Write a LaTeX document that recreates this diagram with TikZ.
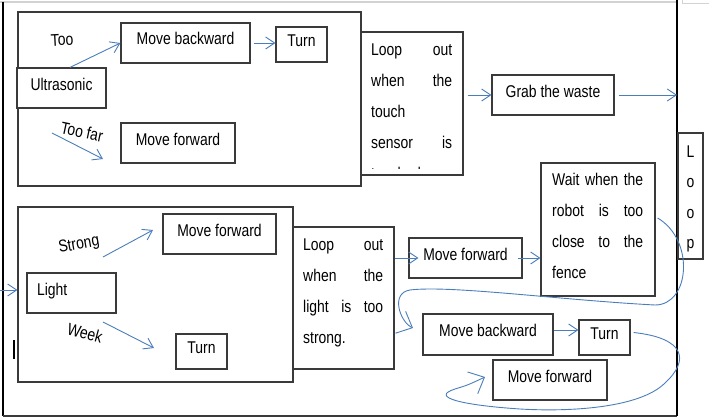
\documentclass[tikz,border=0pt]{standalone}
\usepackage{fontspec}
\setmainfont{Liberation Sans}[FakeStretch=0.82]
\usetikzlibrary{arrows.meta}
\definecolor{arrowblue}{HTML}{4A7EBB}
\definecolor{boxgray}{HTML}{3A3A3A}

\begin{document}
\begin{tikzpicture}[x=1pt,y=-1pt,
            every node/.style={font=\fontsize{17}{31}\selectfont},
            box/.style={draw=boxgray,line width=1.2pt,fill=white,text height=12pt,text depth=8pt,inner sep=0pt},
            para/.style={anchor=north west,inner sep=0pt,align=left},
            lbl/.style={inner sep=0pt},
            arr/.style={draw=arrowblue,line width=0.9pt,-{Straight Barb[length=9pt,width=12pt]}},
            bigarr/.style={draw=arrowblue,line width=0.9pt,-{Straight Barb[length=13pt,width=24pt]}}]
            \useasboundingbox (0,0) rectangle (709,420);

            \draw[gray!35,line width=1.2pt] (0,2) -- (676,2);
            \draw[gray!35,line width=1pt] (682,0) -- (682,4) -- (709,4);
            \draw[black,line width=1.3pt] (3,2) -- (3,416);
            \draw[boxgray,line width=1.3pt] (3,416) -- (677,416);
            \draw[black,line width=1.5pt] (677,0) -- (677,416);

            \node (grpA) at (189.5,99) [box,minimum width=343pt,minimum height=174pt] {};
            \node (usonic) at (61.5,88) [box,minimum width=89pt,minimum height=40pt] {Ultrasonic};
            \node (mbackA) at (185.5,43) [box,minimum width=129pt,minimum height=40pt] {Move backward};
            \node (turnA) at (301.5,44.5) [box,minimum width=51pt,minimum height=35pt] {Turn};
            \node (mfwdA) at (178,143) [box,minimum width=114pt,minimum height=40pt] {Move forward};
            \node (tooA) at (62,40) [lbl,rotate=3] {Too};
            \node (toofar) at (82,132) [lbl,rotate=-12] {Too far};
            \coordinate (farS) at (52,133);
            \coordinate (farE) at (103,159);

            \node (loopA) at (412,103.5) [box,minimum width=102pt,minimum height=143pt] {};
            \begin{scope}
                \clip (361,32) rectangle (463,168);
                \node (loopAtxt) at (371,42) [para,text width=81pt] {\rule{0pt}{13pt}Loop\hfill out\\when\hfill the\\touch\\sensor\hfill is\\touched.};
            \end{scope}
            \node (grab) at (553,95) [box,minimum width=122pt,minimum height=40pt] {Grab the waste};
            \coordinate (frameR) at (677,95);

            \node (loopV) at (690.5,196) [box,minimum width=25pt,minimum height=126pt] {};
            \node (loopVtxt) at (690.5,144) [anchor=north,inner sep=0pt,align=center,font=\fontsize{17}{30.5}\selectfont] {\rule{0pt}{13pt}L\\o\\o\\p};

            \node (grpB) at (155.5,294.5) [box,minimum width=275pt,minimum height=175pt] {};
            \node (light) at (71.5,293) [box,minimum width=89pt,minimum height=40pt,text width=69pt,align=left,inner xsep=10pt] {Light};
            \node (mfwdB1) at (219.5,234) [box,minimum width=113pt,minimum height=40pt] {Move forward};
            \node (turnB) at (201.5,351.5) [box,minimum width=51pt,minimum height=35pt] {Turn};
            \node (strong) at (79,245) [lbl,rotate=10] {Strong};
            \node (week) at (85,333) [lbl,rotate=-15] {Week};
            \coordinate (strS) at (103,257);
            \coordinate (strE) at (153,230);
            \coordinate (wkS) at (103,322);
            \coordinate (wkE) at (154,348);
            \coordinate (inL) at (0,290);
            \coordinate (cursorT) at (14,340);
            \coordinate (cursorB) at (14,359);

            \node (loopB) at (343.5,298) [box,minimum width=101pt,minimum height=142pt] {};
            \node (loopBtxt) at (303,237) [para,text width=80pt] {\rule{0pt}{13pt}Loop\hfill out\\when\hfill the\\light\hfill is\hfill too\\strong.};
            \node (mfwdB2) at (465.5,258) [box,minimum width=113pt,minimum height=40pt] {Move forward};
            \node (wait) at (598,229.5) [box,minimum width=114pt,minimum height=133pt] {};
            \node (waittxt) at (552,172) [para,text width=91pt] {\rule{0pt}{13pt}Wait\hfill when\hfill the\\robot\hfill is\hfill too\\close\hfill to\hfill the\\fence};
            \node (mbackB) at (488,334.5) [box,minimum width=130pt,minimum height=41pt] {Move backward};
            \node (turnB2) at (604.5,337.5) [box,minimum width=51pt,minimum height=35pt] {Turn};
            \node (mfwdB3) at (550,380) [box,minimum width=114pt,minimum height=40pt] {Move forward};
            \coordinate (mbB) at ([yshift=4.5pt]mbackB.east);

            \draw[arr] ([xshift=8.5pt]usonic.north) -- (mbackA.west);
            \draw[arr] (mbackA.east) ++(3,0) -- (mbackA.east -| turnA.west);
            \draw[arr] (farS) -- (farE);
            \draw[arr] (loopA.east |- grab.west) ++(4,0) -- (grab.west);
            \draw[arr] (grab.east) ++(4,0) -- (frameR);
            \draw[arr] (inL) -- (inL -| grpB.west);
            \draw[arr] (strS) -- (strE);
            \draw[arr] (wkS) -- (wkE);
            \draw[arr] (loopB.east |- mfwdB2.west) -- ([xshift=10pt]mfwdB2.west);
            \draw[arr] (mfwdB2.east) ++(-5,0) -- (mfwdB2.east -| wait.west);
            \draw[arr] (mbB) -- (mbB -| turnB2.west);
            \draw[bigarr] (wait.east) ++(2,-11.5) .. controls (695,240) and (690,305) .. (655,305) .. controls (560,300) and (450,285) .. (410,290) .. controls (390,293) and (400,322) .. (413,328);
            \draw[bigarr] (turnB2.east) ++(3,-5) .. controls (685,338) and (690,360) .. (665,383) .. controls (640,408) and (570,412) .. (520,409) .. controls (460,405) and (430,397) .. (455,389) .. controls (468,385) .. (485,377);
            \draw[line width=1.5pt] (cursorT) -- (cursorB);

        \end{tikzpicture}
\end{document}
